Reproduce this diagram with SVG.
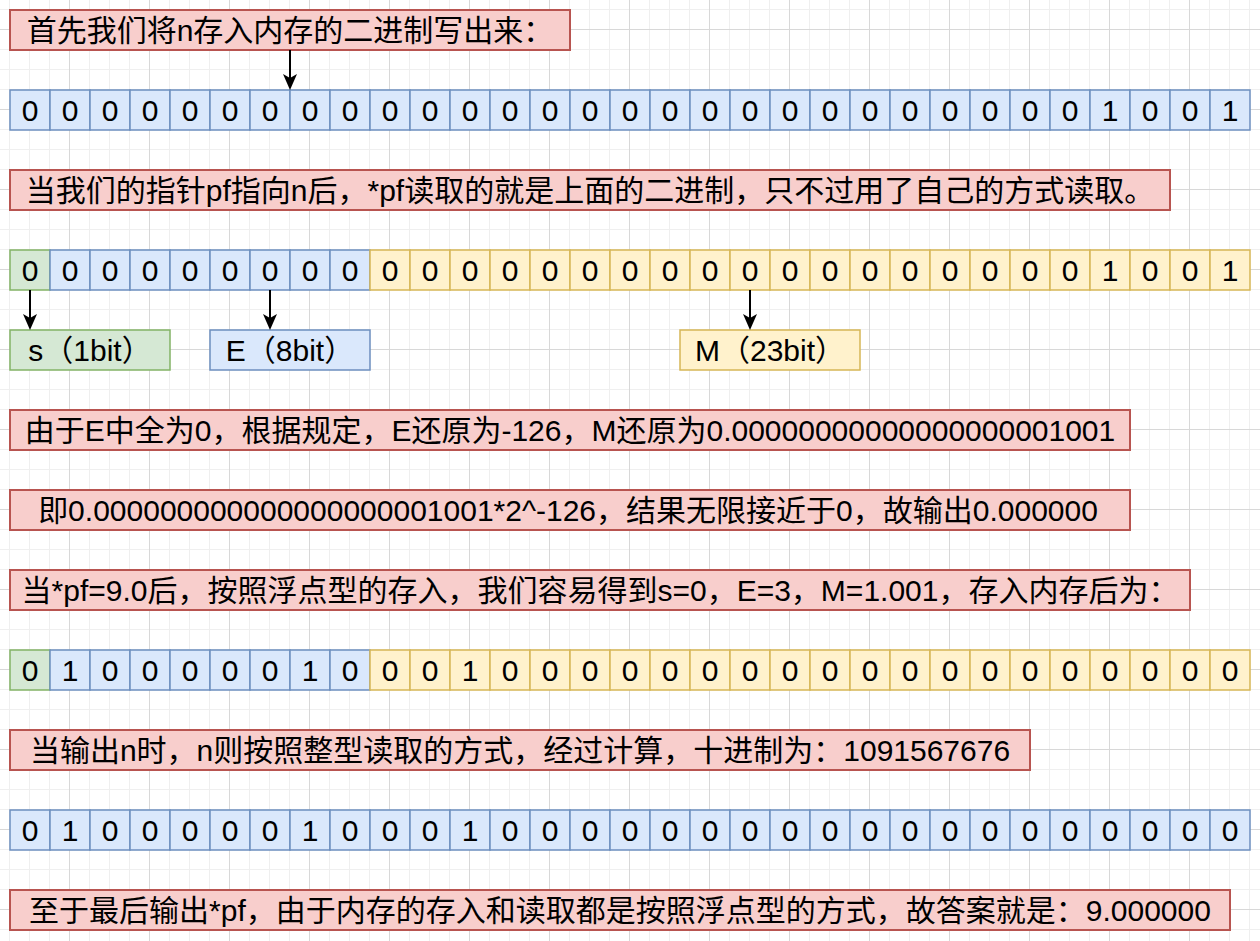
<svg xmlns="http://www.w3.org/2000/svg" width="1260" height="941" viewBox="0 0 1260 941">
<defs>
<style>
.b{fill:#dae8fc;stroke:#6c8ebf;stroke-width:1.5}
.g{fill:#d5e8d4;stroke:#82b366;stroke-width:1.5}
.y{fill:#fff2cc;stroke:#d6b656;stroke-width:1.5}
.r{fill:#f8cecc;stroke:#b85450;stroke-width:2}
text{font-family:"Liberation Sans","Noto Sans CJK SC",sans-serif;font-size:30px;fill:#000;text-anchor:middle}
.e{stroke:#000;stroke-width:2;fill:none}
</style>
<pattern id="minor" width="20" height="20" patternUnits="userSpaceOnUse" x="9" y="9"><path d="M0.5 0V20M0 0.5H20" stroke="#efefef" stroke-width="1" fill="none"/></pattern>
<pattern id="major" width="80" height="80" patternUnits="userSpaceOnUse" x="69" y="29"><path d="M0.5 0V80M0 0.5H80" stroke="#d8d8d8" stroke-width="1" fill="none"/></pattern>
<marker id="ah" markerUnits="userSpaceOnUse" markerWidth="16" markerHeight="16" refX="12" refY="8" orient="auto"><path d="M0 1L16 8L0 15L4 8Z" fill="#000"/></marker>
</defs>
<rect width="1260" height="941" fill="#fff"/>
<rect width="1260" height="941" fill="url(#minor)"/>
<rect width="1260" height="941" fill="url(#major)"/>

<g id="t1"><rect class="r" x="10" y="10" width="560" height="40"/><text x="290" y="41">首先我们将n存入内存的二进制写出来：</text></g>
<g id="t2"><rect class="r" x="10" y="170" width="1160" height="40"/><text x="590" y="201">当我们的指针pf指向n后，*pf读取的就是上面的二进制，只不过用了自己的方式读取。</text></g>
<g id="t3"><rect class="r" x="10" y="410" width="1120" height="40"/><text x="570" y="441">由于E中全为0，根据规定，E还原为-126，M还原为0.00000000000000000001001</text></g>
<g id="t4"><rect class="r" x="10" y="490" width="1120" height="40"/><text x="568" y="521">即0.000000000000000000001001*2^-126，结果无限接近于0，故输出0.000000</text></g>
<g id="t5"><rect class="r" x="10" y="570" width="1180" height="40"/><text x="600" y="601">当*pf=9.0后，按照浮点型的存入，我们容易得到s=0，E=3，M=1.001，存入内存后为：</text></g>
<g id="t6"><rect class="r" x="10" y="730" width="1020" height="40"/><text x="520" y="761">当输出n时，n则按照整型读取的方式，经过计算，十进制为：1091567676</text></g>
<g id="t7"><rect class="r" x="10" y="890" width="1220" height="40"/><text x="620" y="921">至于最后输出*pf，由于内存的存入和读取都是按照浮点型的方式，故答案就是：9.000000</text></g>

<g id="ls"><rect class="g" x="10" y="330" width="160" height="40"/><text x="90" y="361">s（1bit）</text></g>
<g id="le"><rect class="b" x="210" y="330" width="160" height="40"/><text x="290" y="361">E（8bit）</text></g>
<g id="lm"><rect class="y" x="680" y="330" width="180" height="40"/><text x="770" y="361">M（23bit）</text></g>

<g id="row1" transform="translate(0,90)">
<g id="r1c0"><rect class="b" x="10" width="40" height="40"/><text x="30" y="31">0</text></g>
<g id="r1c1"><rect class="b" x="50" width="40" height="40"/><text x="70" y="31">0</text></g>
<g id="r1c2"><rect class="b" x="90" width="40" height="40"/><text x="110" y="31">0</text></g>
<g id="r1c3"><rect class="b" x="130" width="40" height="40"/><text x="150" y="31">0</text></g>
<g id="r1c4"><rect class="b" x="170" width="40" height="40"/><text x="190" y="31">0</text></g>
<g id="r1c5"><rect class="b" x="210" width="40" height="40"/><text x="230" y="31">0</text></g>
<g id="r1c6"><rect class="b" x="250" width="40" height="40"/><text x="270" y="31">0</text></g>
<g id="r1c7"><rect class="b" x="290" width="40" height="40"/><text x="310" y="31">0</text></g>
<g id="r1c8"><rect class="b" x="330" width="40" height="40"/><text x="350" y="31">0</text></g>
<g id="r1c9"><rect class="b" x="370" width="40" height="40"/><text x="390" y="31">0</text></g>
<g id="r1c10"><rect class="b" x="410" width="40" height="40"/><text x="430" y="31">0</text></g>
<g id="r1c11"><rect class="b" x="450" width="40" height="40"/><text x="470" y="31">0</text></g>
<g id="r1c12"><rect class="b" x="490" width="40" height="40"/><text x="510" y="31">0</text></g>
<g id="r1c13"><rect class="b" x="530" width="40" height="40"/><text x="550" y="31">0</text></g>
<g id="r1c14"><rect class="b" x="570" width="40" height="40"/><text x="590" y="31">0</text></g>
<g id="r1c15"><rect class="b" x="610" width="40" height="40"/><text x="630" y="31">0</text></g>
<g id="r1c16"><rect class="b" x="650" width="40" height="40"/><text x="670" y="31">0</text></g>
<g id="r1c17"><rect class="b" x="690" width="40" height="40"/><text x="710" y="31">0</text></g>
<g id="r1c18"><rect class="b" x="730" width="40" height="40"/><text x="750" y="31">0</text></g>
<g id="r1c19"><rect class="b" x="770" width="40" height="40"/><text x="790" y="31">0</text></g>
<g id="r1c20"><rect class="b" x="810" width="40" height="40"/><text x="830" y="31">0</text></g>
<g id="r1c21"><rect class="b" x="850" width="40" height="40"/><text x="870" y="31">0</text></g>
<g id="r1c22"><rect class="b" x="890" width="40" height="40"/><text x="910" y="31">0</text></g>
<g id="r1c23"><rect class="b" x="930" width="40" height="40"/><text x="950" y="31">0</text></g>
<g id="r1c24"><rect class="b" x="970" width="40" height="40"/><text x="990" y="31">0</text></g>
<g id="r1c25"><rect class="b" x="1010" width="40" height="40"/><text x="1030" y="31">0</text></g>
<g id="r1c26"><rect class="b" x="1050" width="40" height="40"/><text x="1070" y="31">0</text></g>
<g id="r1c27"><rect class="b" x="1090" width="40" height="40"/><text x="1110" y="31">1</text></g>
<g id="r1c28"><rect class="b" x="1130" width="40" height="40"/><text x="1150" y="31">0</text></g>
<g id="r1c29"><rect class="b" x="1170" width="40" height="40"/><text x="1190" y="31">0</text></g>
<g id="r1c30"><rect class="b" x="1210" width="40" height="40"/><text x="1230" y="31">1</text></g>
</g>

<g id="row2" transform="translate(0,250)">
<g id="r2c0"><rect class="g" x="10" width="40" height="40"/><text x="30" y="31">0</text></g>
<g id="r2c1"><rect class="b" x="50" width="40" height="40"/><text x="70" y="31">0</text></g>
<g id="r2c2"><rect class="b" x="90" width="40" height="40"/><text x="110" y="31">0</text></g>
<g id="r2c3"><rect class="b" x="130" width="40" height="40"/><text x="150" y="31">0</text></g>
<g id="r2c4"><rect class="b" x="170" width="40" height="40"/><text x="190" y="31">0</text></g>
<g id="r2c5"><rect class="b" x="210" width="40" height="40"/><text x="230" y="31">0</text></g>
<g id="r2c6"><rect class="b" x="250" width="40" height="40"/><text x="270" y="31">0</text></g>
<g id="r2c7"><rect class="b" x="290" width="40" height="40"/><text x="310" y="31">0</text></g>
<g id="r2c8"><rect class="b" x="330" width="40" height="40"/><text x="350" y="31">0</text></g>
<g id="r2c9"><rect class="y" x="370" width="40" height="40"/><text x="390" y="31">0</text></g>
<g id="r2c10"><rect class="y" x="410" width="40" height="40"/><text x="430" y="31">0</text></g>
<g id="r2c11"><rect class="y" x="450" width="40" height="40"/><text x="470" y="31">0</text></g>
<g id="r2c12"><rect class="y" x="490" width="40" height="40"/><text x="510" y="31">0</text></g>
<g id="r2c13"><rect class="y" x="530" width="40" height="40"/><text x="550" y="31">0</text></g>
<g id="r2c14"><rect class="y" x="570" width="40" height="40"/><text x="590" y="31">0</text></g>
<g id="r2c15"><rect class="y" x="610" width="40" height="40"/><text x="630" y="31">0</text></g>
<g id="r2c16"><rect class="y" x="650" width="40" height="40"/><text x="670" y="31">0</text></g>
<g id="r2c17"><rect class="y" x="690" width="40" height="40"/><text x="710" y="31">0</text></g>
<g id="r2c18"><rect class="y" x="730" width="40" height="40"/><text x="750" y="31">0</text></g>
<g id="r2c19"><rect class="y" x="770" width="40" height="40"/><text x="790" y="31">0</text></g>
<g id="r2c20"><rect class="y" x="810" width="40" height="40"/><text x="830" y="31">0</text></g>
<g id="r2c21"><rect class="y" x="850" width="40" height="40"/><text x="870" y="31">0</text></g>
<g id="r2c22"><rect class="y" x="890" width="40" height="40"/><text x="910" y="31">0</text></g>
<g id="r2c23"><rect class="y" x="930" width="40" height="40"/><text x="950" y="31">0</text></g>
<g id="r2c24"><rect class="y" x="970" width="40" height="40"/><text x="990" y="31">0</text></g>
<g id="r2c25"><rect class="y" x="1010" width="40" height="40"/><text x="1030" y="31">0</text></g>
<g id="r2c26"><rect class="y" x="1050" width="40" height="40"/><text x="1070" y="31">0</text></g>
<g id="r2c27"><rect class="y" x="1090" width="40" height="40"/><text x="1110" y="31">1</text></g>
<g id="r2c28"><rect class="y" x="1130" width="40" height="40"/><text x="1150" y="31">0</text></g>
<g id="r2c29"><rect class="y" x="1170" width="40" height="40"/><text x="1190" y="31">0</text></g>
<g id="r2c30"><rect class="y" x="1210" width="40" height="40"/><text x="1230" y="31">1</text></g>
</g>

<g id="row3" transform="translate(0,650)">
<g id="r3c0"><rect class="g" x="10" width="40" height="40"/><text x="30" y="31">0</text></g>
<g id="r3c1"><rect class="b" x="50" width="40" height="40"/><text x="70" y="31">1</text></g>
<g id="r3c2"><rect class="b" x="90" width="40" height="40"/><text x="110" y="31">0</text></g>
<g id="r3c3"><rect class="b" x="130" width="40" height="40"/><text x="150" y="31">0</text></g>
<g id="r3c4"><rect class="b" x="170" width="40" height="40"/><text x="190" y="31">0</text></g>
<g id="r3c5"><rect class="b" x="210" width="40" height="40"/><text x="230" y="31">0</text></g>
<g id="r3c6"><rect class="b" x="250" width="40" height="40"/><text x="270" y="31">0</text></g>
<g id="r3c7"><rect class="b" x="290" width="40" height="40"/><text x="310" y="31">1</text></g>
<g id="r3c8"><rect class="b" x="330" width="40" height="40"/><text x="350" y="31">0</text></g>
<g id="r3c9"><rect class="y" x="370" width="40" height="40"/><text x="390" y="31">0</text></g>
<g id="r3c10"><rect class="y" x="410" width="40" height="40"/><text x="430" y="31">0</text></g>
<g id="r3c11"><rect class="y" x="450" width="40" height="40"/><text x="470" y="31">1</text></g>
<g id="r3c12"><rect class="y" x="490" width="40" height="40"/><text x="510" y="31">0</text></g>
<g id="r3c13"><rect class="y" x="530" width="40" height="40"/><text x="550" y="31">0</text></g>
<g id="r3c14"><rect class="y" x="570" width="40" height="40"/><text x="590" y="31">0</text></g>
<g id="r3c15"><rect class="y" x="610" width="40" height="40"/><text x="630" y="31">0</text></g>
<g id="r3c16"><rect class="y" x="650" width="40" height="40"/><text x="670" y="31">0</text></g>
<g id="r3c17"><rect class="y" x="690" width="40" height="40"/><text x="710" y="31">0</text></g>
<g id="r3c18"><rect class="y" x="730" width="40" height="40"/><text x="750" y="31">0</text></g>
<g id="r3c19"><rect class="y" x="770" width="40" height="40"/><text x="790" y="31">0</text></g>
<g id="r3c20"><rect class="y" x="810" width="40" height="40"/><text x="830" y="31">0</text></g>
<g id="r3c21"><rect class="y" x="850" width="40" height="40"/><text x="870" y="31">0</text></g>
<g id="r3c22"><rect class="y" x="890" width="40" height="40"/><text x="910" y="31">0</text></g>
<g id="r3c23"><rect class="y" x="930" width="40" height="40"/><text x="950" y="31">0</text></g>
<g id="r3c24"><rect class="y" x="970" width="40" height="40"/><text x="990" y="31">0</text></g>
<g id="r3c25"><rect class="y" x="1010" width="40" height="40"/><text x="1030" y="31">0</text></g>
<g id="r3c26"><rect class="y" x="1050" width="40" height="40"/><text x="1070" y="31">0</text></g>
<g id="r3c27"><rect class="y" x="1090" width="40" height="40"/><text x="1110" y="31">0</text></g>
<g id="r3c28"><rect class="y" x="1130" width="40" height="40"/><text x="1150" y="31">0</text></g>
<g id="r3c29"><rect class="y" x="1170" width="40" height="40"/><text x="1190" y="31">0</text></g>
<g id="r3c30"><rect class="y" x="1210" width="40" height="40"/><text x="1230" y="31">0</text></g>
</g>

<g id="row4" transform="translate(0,810)">
<g id="r4c0"><rect class="b" x="10" width="40" height="40"/><text x="30" y="31">0</text></g>
<g id="r4c1"><rect class="b" x="50" width="40" height="40"/><text x="70" y="31">1</text></g>
<g id="r4c2"><rect class="b" x="90" width="40" height="40"/><text x="110" y="31">0</text></g>
<g id="r4c3"><rect class="b" x="130" width="40" height="40"/><text x="150" y="31">0</text></g>
<g id="r4c4"><rect class="b" x="170" width="40" height="40"/><text x="190" y="31">0</text></g>
<g id="r4c5"><rect class="b" x="210" width="40" height="40"/><text x="230" y="31">0</text></g>
<g id="r4c6"><rect class="b" x="250" width="40" height="40"/><text x="270" y="31">0</text></g>
<g id="r4c7"><rect class="b" x="290" width="40" height="40"/><text x="310" y="31">1</text></g>
<g id="r4c8"><rect class="b" x="330" width="40" height="40"/><text x="350" y="31">0</text></g>
<g id="r4c9"><rect class="b" x="370" width="40" height="40"/><text x="390" y="31">0</text></g>
<g id="r4c10"><rect class="b" x="410" width="40" height="40"/><text x="430" y="31">0</text></g>
<g id="r4c11"><rect class="b" x="450" width="40" height="40"/><text x="470" y="31">1</text></g>
<g id="r4c12"><rect class="b" x="490" width="40" height="40"/><text x="510" y="31">0</text></g>
<g id="r4c13"><rect class="b" x="530" width="40" height="40"/><text x="550" y="31">0</text></g>
<g id="r4c14"><rect class="b" x="570" width="40" height="40"/><text x="590" y="31">0</text></g>
<g id="r4c15"><rect class="b" x="610" width="40" height="40"/><text x="630" y="31">0</text></g>
<g id="r4c16"><rect class="b" x="650" width="40" height="40"/><text x="670" y="31">0</text></g>
<g id="r4c17"><rect class="b" x="690" width="40" height="40"/><text x="710" y="31">0</text></g>
<g id="r4c18"><rect class="b" x="730" width="40" height="40"/><text x="750" y="31">0</text></g>
<g id="r4c19"><rect class="b" x="770" width="40" height="40"/><text x="790" y="31">0</text></g>
<g id="r4c20"><rect class="b" x="810" width="40" height="40"/><text x="830" y="31">0</text></g>
<g id="r4c21"><rect class="b" x="850" width="40" height="40"/><text x="870" y="31">0</text></g>
<g id="r4c22"><rect class="b" x="890" width="40" height="40"/><text x="910" y="31">0</text></g>
<g id="r4c23"><rect class="b" x="930" width="40" height="40"/><text x="950" y="31">0</text></g>
<g id="r4c24"><rect class="b" x="970" width="40" height="40"/><text x="990" y="31">0</text></g>
<g id="r4c25"><rect class="b" x="1010" width="40" height="40"/><text x="1030" y="31">0</text></g>
<g id="r4c26"><rect class="b" x="1050" width="40" height="40"/><text x="1070" y="31">0</text></g>
<g id="r4c27"><rect class="b" x="1090" width="40" height="40"/><text x="1110" y="31">0</text></g>
<g id="r4c28"><rect class="b" x="1130" width="40" height="40"/><text x="1150" y="31">0</text></g>
<g id="r4c29"><rect class="b" x="1170" width="40" height="40"/><text x="1190" y="31">0</text></g>
<g id="r4c30"><rect class="b" x="1210" width="40" height="40"/><text x="1230" y="31">0</text></g>
</g>

<g id="connectors">
<path class="e" d="M290 50V86" marker-end="url(#ah)"/>
<path class="e" d="M30 290V326" marker-end="url(#ah)"/>
<path class="e" d="M270 290V326" marker-end="url(#ah)"/>
<path class="e" d="M750 290V326" marker-end="url(#ah)"/>
</g>
</svg>
